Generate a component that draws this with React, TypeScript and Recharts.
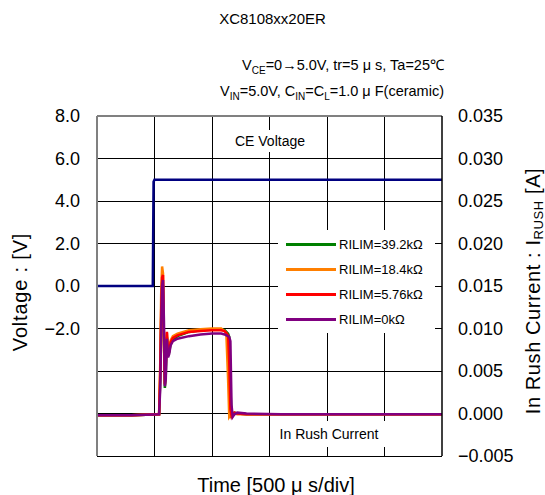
import { ComposedChart, Line, XAxis, YAxis, CartesianGrid, Legend, Label, ReferenceLine } from 'recharts'

const timeTicks = [0, 500, 1000, 1500, 2000, 2500, 3000]
const voltTicks = [-8, -6, -4, -2, 0, 2, 4, 6, 8]
const currTicks = [-0.005, 0, 0.005, 0.01, 0.015, 0.02, 0.025, 0.03, 0.035]

// CE voltage step (us, V)
const ceTime = [0, 485, 492, 500, 3000]
const ceVolt = [0, 0, 4.9, 5.0, 5.0]

// in rush current traces (us, A)
const rushTime = [0, 300, 540, 550, 558, 566, 574, 582, 590, 598, 608, 618, 628, 640, 660, 700, 800, 900, 1000, 1080, 1110, 1125, 1140, 1150, 1160, 1170, 1180, 1195, 1220, 1300, 1600, 2000, 2400, 2800, 3000]
const rush39k = [-0.0002, -0.0002, -0.0001, 0.004, 0.011, 0.0155, 0.015, 0.009, 0.003, 0.0045, 0.009, 0.0068, 0.0072, 0.0082, 0.0087, 0.0091, 0.0096, 0.0098, 0.0099, 0.0099, 0.0098, 0.0096, 0.0094, 0.009, 0.003, -0.0003, -0.0002, 0.0001, 0, -0.0001, -0.0001, -0.0001, -0.0001, -0.0001, -0.0001]
const rush18k = [-0.0002, -0.0002, -0.0001, 0.006, 0.014, 0.0173, 0.0165, 0.008, 0.0035, 0.006, 0.0095, 0.0072, 0.0076, 0.0086, 0.0091, 0.0094, 0.0098, 0.0099, 0.01, 0.01, 0.0097, 0.0093, 0.004, -0.0004, -0.0002, 0.0001, 0, 0, -0.0001, -0.0001, -0.0001, -0.0001, -0.0001, -0.0001, -0.0001]
const rush5k = [-0.0002, -0.0002, -0.0001, 0.005, 0.012, 0.016, 0.0163, 0.009, 0.0034, 0.0055, 0.0096, 0.007, 0.0074, 0.0084, 0.0089, 0.0092, 0.0096, 0.0097, 0.0098, 0.0098, 0.0097, 0.0095, 0.0092, 0.006, 0.0005, -0.0003, 0, 0.0001, 0, -0.0001, -0.0001, -0.0001, -0.0001, -0.0001, -0.0001]
const rush0k = [-0.0002, -0.0002, -0.0001, 0.003, 0.01, 0.015, 0.0157, 0.011, 0.0032, 0.004, 0.0088, 0.0066, 0.007, 0.008, 0.0085, 0.0088, 0.0091, 0.0093, 0.0094, 0.0094, 0.0093, 0.0092, 0.0091, 0.009, 0.0085, 0.001, -0.0004, -0.0001, 0.0001, 0, -0.0001, -0.0001, -0.0001, -0.0001, -0.0001]

const seriesNames = ['RILIM=39.2kΩ', 'RILIM=18.4kΩ', 'RILIM=5.76kΩ', 'RILIM=0kΩ']
const seriesColors = ['#008000', '#FF7F00', '#FF0000', '#800080']
const seriesValues = [rush39k, rush18k, rush5k, rush0k]

const ceData = ceTime.map((t, i) => ({ t, v: ceVolt[i] }))
const rushData = seriesValues.map((vals) => rushTime.map((t, i) => ({ t, i: vals[i] })))

const FONT = '"Liberation Sans", Arial, sans-serif'

const fmtVolt = (v: number) => (v < -2 ? '' : v < 0 ? '\u2212' + Math.abs(v).toFixed(1) : v.toFixed(1))
const fmtCurr = (v: number) => (v < 0 ? '\u2212' + Math.abs(v).toFixed(3) : v.toFixed(3))

const renderLegend = () => (
  <div style={{ position: 'relative', width: 157, height: 103, background: '#fff', fontFamily: FONT, fontSize: 13 }}>
    {seriesNames.map((name, idx) => (
      <div key={name} style={{ position: 'absolute', left: 8, top: 14 + idx * 25.3 - 8, height: 16, display: 'flex', alignItems: 'center' }}>
        <div style={{ width: 50, height: 3, background: seriesColors[idx], marginRight: 3 }} />
        <span style={{ color: '#000', whiteSpace: 'nowrap' }}>{name}</span>
      </div>
    ))}
  </div>
)

const App = () => {
  return (
    <div style={{ position: 'absolute', left: 0, top: 0, width: 545, height: 495, background: '#fff', fontFamily: FONT }}>
      <div style={{ position: 'absolute', left: 0, width: 545, top: 10, textAlign: 'center', fontSize: 15, color: '#000' }}>XC8108xx20ER</div>
      <div style={{ position: 'absolute', right: 101, top: 55, fontSize: 14.5, color: '#000', whiteSpace: 'nowrap', lineHeight: '21px', textAlign: 'right' }}>
        <div>V<sub style={{ fontSize: 10 }}>CE</sub>=0→5.0V, tr=5 μ s, Ta=25℃</div>
        <div>V<sub style={{ fontSize: 10 }}>IN</sub>=5.0V, C<sub style={{ fontSize: 10 }}>IN</sub>=C<sub style={{ fontSize: 10 }}>L</sub>=1.0 μ F(ceramic)</div>
      </div>
      <ComposedChart width={545} height={495} margin={{ top: 116, right: 0, bottom: 39, left: 0 }}>
        <CartesianGrid xAxisId="t" yAxisId="v" stroke="#000" strokeWidth={1} vertical={false} shapeRendering="crispEdges" />
        <XAxis
          xAxisId="t"
          dataKey="t"
          type="number"
          domain={[0, 3000]}
          ticks={timeTicks}
          tick={false}
          tickLine={false}
          height={0}
          axisLine={{ stroke: '#000', strokeWidth: 1.5 }}
        />
        <YAxis
          yAxisId="v"
          orientation="left"
          width={97}
          domain={[-8, 8]}
          ticks={voltTicks}
          tickFormatter={fmtVolt}
          tickLine={false}
          tickSize={0}
          tickMargin={17}
          tick={{ fontSize: 18, fill: '#000', fontFamily: FONT }}
          axisLine={{ stroke: '#808080', strokeWidth: 2 }}
        >
          <Label
            content={() => (
              <text transform="translate(27,292) rotate(-90)" textAnchor="middle" fontSize={20} letterSpacing={0.8} fontFamily={FONT} fill="#000">
                Voltage : [V]
              </text>
            )}
          />
        </YAxis>
        <YAxis
          yAxisId="i"
          orientation="right"
          width={103}
          domain={[-0.005, 0.035]}
          ticks={currTicks}
          tickFormatter={fmtCurr}
          tickLine={false}
          tickSize={0}
          tickMargin={16}
          tick={{ fontSize: 18, fill: '#000', fontFamily: FONT }}
          axisLine={{ stroke: '#000', strokeWidth: 1.5 }}
        >
          <Label
            content={() => (
              <text transform="translate(540,291) rotate(-90)" textAnchor="middle" fontSize={20} letterSpacing={0.6} fontFamily={FONT} fill="#000">
                In Rush Current : I
                <tspan dy={3} fontSize={13}>RUSH</tspan>
                <tspan dy={-3}> [A]</tspan>
              </text>
            )}
          />
        </YAxis>
        {timeTicks.slice(1, -1).map((t) => (
          <ReferenceLine key={t} xAxisId="t" yAxisId="v" x={t} stroke="#000" strokeWidth={1} shapeRendering="crispEdges" />
        ))}
        <ReferenceLine xAxisId="t" yAxisId="v" y={8} stroke="#808080" strokeWidth={2} />
        <Line
          xAxisId="t"
          yAxisId="v"
          data={ceData}
          dataKey="v"
          name="CE Voltage"
          stroke="#000080"
          strokeWidth={2.5}
          dot={false}
          legendType="none"
          isAnimationActive={false}
        />
        {rushData.map((d, idx) => (
          <Line
            key={seriesNames[idx]}
            xAxisId="t"
            yAxisId="i"
            data={d}
            dataKey="i"
            name={seriesNames[idx]}
            stroke={seriesColors[idx]}
            strokeWidth={2.5}
            dot={false}
            isAnimationActive={false}
          />
        ))}
        <Legend
          layout="horizontal"
          verticalAlign="middle"
          align="center"
          content={renderLegend}
          wrapperStyle={{ left: 278, top: 230, width: 157, height: 103 }}
        />
      </ComposedChart>
      <div style={{ position: 'absolute', left: 230, top: 130, width: 80, height: 22, background: '#fff', fontSize: 14, textAlign: 'center', lineHeight: '22px', color: '#000' }}>
        CE Voltage
      </div>
      <div style={{ position: 'absolute', left: 272, top: 421, width: 114, height: 26, background: '#fff', fontSize: 14, textAlign: 'center', lineHeight: '26px', color: '#000' }}>
        In Rush Current
      </div>
      <div style={{ position: 'absolute', left: 0, width: 552, top: 473, textAlign: 'center', fontSize: 20, lineHeight: '24px', color: '#000', whiteSpace: 'nowrap' }}>
        Time [500 μ s/div]
      </div>
    </div>
  )
}

export default App
